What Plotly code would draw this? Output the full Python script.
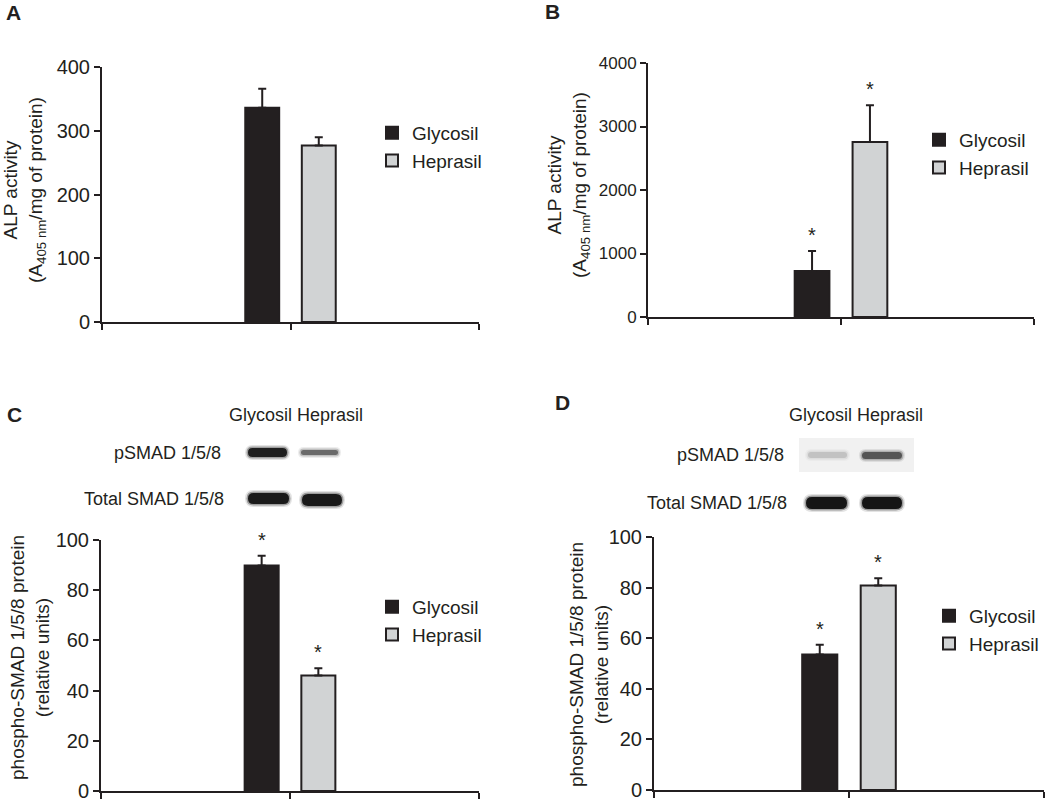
import plotly.graph_objects as go

# ---------------- data ----------------
groups = ["Glycosil", "Heprasil"]
alp_a = [336, 277]
alp_a_err = [30, 13]
alp_b = [723, 2757]
alp_b_err = [315, 578]
psmad_c = [89.8, 46.0]
psmad_c_err = [3.9, 2.9]
psmad_d = [53.6, 80.8]
psmad_d_err = [3.8, 2.9]
sig_a = [False, False]
sig_b = [True, True]
sig_c = [True, True]
sig_d = [True, True]

FW, FH = 1050, 803
INK = "#231f20"
FILL = {"Glycosil": "#231f20", "Heprasil": "#d1d3d4"}
OFFSET = {"Glycosil": -0.24, "Heprasil": 0.06}
BW = 0.18
FONT = "Liberation Sans, Arial, sans-serif"


def px(x):
    return x / FW


def py(y):
    return 1 - y / FH


fig = go.Figure()

panels = [
    ("", alp_a, alp_a_err, sig_a, "legend"),
    ("2", alp_b, alp_b_err, sig_b, "legend2"),
    ("3", psmad_c, psmad_c_err, sig_c, "legend3"),
    ("4", psmad_d, psmad_d_err, sig_d, "legend4"),
]

annotations = []
for suf, vals, errs, sig, leg in panels:
    for g, v, e, s in zip(groups, vals, errs, sig):
        fig.add_trace(go.Bar(
            x=[1], y=[v], name=g, offset=OFFSET[g], width=BW,
            marker=dict(color=FILL[g], line=dict(color=INK, width=2)),
            error_y=dict(type="data", array=[e], arrayminus=[0], symmetric=False,
                         color=INK, thickness=2, width=4),
            xaxis="x" + suf, yaxis="y" + suf, legend=leg, showlegend=True,
            hoverinfo="skip",
        ))
        if s:
            annotations.append(dict(
                x=1 + OFFSET[g] + BW / 2, y=v + e, xref="x" + suf, yref="y" + suf,
                text="*", showarrow=False, yanchor="bottom", yshift=3,
                font=dict(size=20, color=INK, family=FONT),
            ))

ALP_TITLE = "ALP activity<br>(A<sub>405 nm</sub>/mg of protein)"
SMAD_TITLE = "phospho-SMAD 1/5/8 protein<br>(relative units)"
geo = {
    "": dict(x=(102, 479), y=(322, 67), rng=400, dt=100, tfs=20, title=ALP_TITLE, tpos=(24, 190)),
    "2": dict(x=(648, 1034), y=(317, 63), rng=4000, dt=1000, tfs=17, title=ALP_TITLE, tpos=(568, 185)),
    "3": dict(x=(101, 479), y=(791, 540), rng=100, dt=20, tfs=20, title=SMAD_TITLE, tpos=(30, 658)),
    "4": dict(x=(654, 1044), y=(790, 537), rng=100, dt=20, tfs=20, title=SMAD_TITLE, tpos=(589, 665)),
}

layout = dict(
    width=FW, height=FH, margin=dict(l=0, r=0, t=0, b=0, autoexpand=False),
    paper_bgcolor="white", plot_bgcolor="white",
    font=dict(family=FONT, color=INK, size=18),
    barmode="overlay", showlegend=True,
)
for suf, g in geo.items():
    layout["xaxis" + suf] = dict(
        domain=[px(g["x"][0]), px(g["x"][1])], range=[0, 2],
        tickvals=[0, 1, 2], ticks="outside", ticklen=6, tickwidth=2, tickcolor=INK,
        showticklabels=False, showline=True, linewidth=2, linecolor=INK,
        showgrid=False, zeroline=False, anchor="y" + suf, fixedrange=True,
        automargin=False,
    )
    layout["yaxis" + suf] = dict(
        domain=[py(g["y"][0]), py(g["y"][1])], range=[0, g["rng"]], dtick=g["dt"],
        ticks="outside", ticklen=6, tickwidth=2, tickcolor=INK,
        tickfont=dict(size=g["tfs"], color=INK, family=FONT),
        showline=True, linewidth=2, linecolor=INK, showgrid=False, zeroline=False,
        anchor="x" + suf, fixedrange=True, automargin=False, ticklabeloverflow="allow",
    )
    annotations.append(dict(
        x=px(g["tpos"][0]), y=py(g["tpos"][1]), xref="paper", yref="paper",
        text=g["title"], textangle=-90, showarrow=False, xanchor="center", yanchor="middle",
        font=dict(size=19, color=INK, family=FONT),
    ))

legpos = {"legend": (372, 114), "legend2": (919, 121),
          "legend3": (372, 588), "legend4": (929, 597)}
for name, (lx, ly) in legpos.items():
    layout[name] = dict(x=px(lx), y=py(ly), xanchor="left", yanchor="top",
                        font=dict(size=19, color=INK, family=FONT),
                        bgcolor="rgba(0,0,0,0)", tracegroupgap=0, itemwidth=30)

for letter, (lx, ly) in {"A": (4, 13), "B": (543, 11), "C": (5, 415), "D": (553, 402)}.items():
    annotations.append(dict(x=px(lx), y=py(ly), xref="paper", yref="paper", text="<b>%s</b>" % letter,
                            showarrow=False, xanchor="left", yanchor="middle",
                            font=dict(size=21, color=INK, family=FONT)))

blot_text = [
    ("Glycosil Heprasil", 296, 415, "center"),
    ("pSMAD 1/5/8", 223, 453, "right"),
    ("Total SMAD 1/5/8", 226, 499, "right"),
    ("Glycosil Heprasil", 856, 415, "center"),
    ("pSMAD 1/5/8", 786, 455, "right"),
    ("Total SMAD 1/5/8", 789, 503, "right"),
]
for t, tx, ty, anc in blot_text:
    annotations.append(dict(x=px(tx), y=py(ty), xref="paper", yref="paper", text=t,
                            showarrow=False, xanchor=anc, yanchor="middle",
                            font=dict(size=18, color=INK, family=FONT)))

layout["annotations"] = annotations


def pill(x0, x1, y0, y1, color, opacity=1.0):
    r = (y1 - y0) / 2
    ym = (y0 + y1) / 2
    pts = [
        ("M", [(x0 + r, y0)]), ("L", [(x1 - r, y0)]),
        ("Q", [(x1, y0), (x1, ym)]), ("Q", [(x1, y1), (x1 - r, y1)]),
        ("L", [(x0 + r, y1)]), ("Q", [(x0, y1), (x0, ym)]), ("Q", [(x0, y0), (x0 + r, y0)]),
    ]
    path = " ".join(c + " " + " ".join("%.5f,%.5f" % (px(a), py(b)) for a, b in p) for c, p in pts) + " Z"
    return dict(type="path", path=path, xref="paper", yref="paper",
                fillcolor=color, line=dict(width=0), opacity=opacity, layer="above")


def band(x0, x1, y0, y1, color):
    return [pill(x0 - 3, x1 + 3, y0 - 3, y1 + 3, color, 0.12),
            pill(x0 - 1.5, x1 + 1.5, y0 - 1.5, y1 + 1.5, color, 0.35),
            pill(x0, x1, y0, y1, color, 1.0)]


shapes = []
shapes.append(dict(type="rect", xref="paper", yref="paper", x0=px(799), x1=px(914),
                   y0=py(472), y1=py(438), fillcolor="#f1f1f1", line=dict(width=0), layer="below"))
shapes += band(248, 287, 448, 457, "#1e1e1e")
shapes += band(301, 338, 450, 455, "#6a6a6a")
shapes += band(248, 289, 493, 504, "#1a1a1a")
shapes += band(302, 342, 494, 506, "#1a1a1a")
shapes += band(808, 847, 452, 458, "#c2c2c2")
shapes += band(862, 902, 452, 459, "#555555")
shapes += band(806, 847, 497, 509, "#151515")
shapes += band(862, 902, 497, 509, "#151515")
layout["shapes"] = shapes

fig.update_layout(**layout)
fig.write_html("out.html", config={"displayModeBar": False},
               post_script="document.body.style.margin='0px';")
